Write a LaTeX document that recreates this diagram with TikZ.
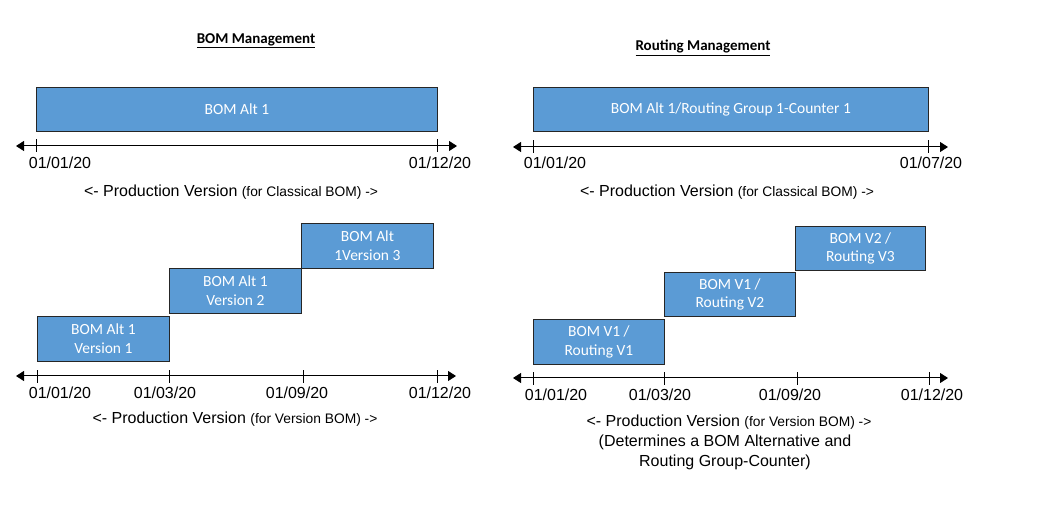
\documentclass[tikz,border=0pt]{standalone}
\usepackage{fontspec}
\setmainfont{Liberation Sans}
\newfontfamily\calib{Carlito}
\usetikzlibrary{arrows.meta}
\definecolor{boxblue}{HTML}{5B9BD5}
\begin{document}
\begin{tikzpicture}[x=1pt,y=-1pt,
  bar/.style={draw=black!85,line width=0.8pt,fill=boxblue,text=white,inner sep=0pt,anchor=north west,align=center,font=\calib\fontsize{15.5}{18.5}\selectfont},
  axis/.style={draw=black,line width=1pt,{Triangle[length=8pt,width=10pt]}-{Triangle[length=8pt,width=10pt]}},
  tick/.style={draw=black,line width=0.8pt},
  datelbl/.style={font=\fontsize{16}{18}\selectfont,inner sep=0pt},
  title/.style={font=\calib\bfseries\fontsize{15}{18}\selectfont,inner sep=0pt},
  pv/.style={font=\fontsize{16}{19.5}\selectfont,inner sep=0pt,align=center}
]
\useasboundingbox (0,0) rectangle (1039,510);
\newcommand{\smallpart}[1]{{\fontsize{13.8}{16}\selectfont #1}}

% ---------- titles
\node[title] (t1) at (256,41) {\underline{BOM Management}};
\node[title] (t2) at (703,48) {\underline{Routing Management}};

% ---------- top left
\node[bar,minimum width=401pt,minimum height=44pt] (a1) at (36,87) {BOM Alt 1};
\coordinate (al) at (16,146);
\coordinate (ar) at (457,146);
\draw[axis] (al) -- (ar);
\coordinate (ta) at (36,146);
\coordinate (tb) at (437,146);
\foreach \c in {ta,tb} \draw[tick] ([yshift=-6pt]\c) -- ([yshift=7pt]\c);
\node[datelbl] (da) at (60,163) {01/01/20};
\node[datelbl] (db) at (440,163) {01/12/20};
\node[pv] (pva) at (231,192) {<- Production Version \smallpart{(for Classical BOM) ->}};

% ---------- top right
\node[bar,minimum width=395pt,minimum height=44pt] (r1) at (533,87) {BOM Alt 1/Routing Group 1-Counter 1};
\coordinate (rl) at (513,147);
\coordinate (rr) at (948,147);
\draw[axis] (rl) -- (rr);
\coordinate (tc) at (533,147);
\coordinate (td) at (928,147);
\foreach \c in {tc,td} \draw[tick] ([yshift=-6pt]\c) -- ([yshift=7pt]\c);
\node[datelbl] (dc) at (555,163) {01/01/20};
\node[datelbl] (dd) at (931,163) {01/07/20};
\node[pv] (pvb) at (727,192) {<- Production Version \smallpart{(for Classical BOM) ->}};

% ---------- bottom left
\node[bar,minimum width=132pt,minimum height=45pt] (v1) at (37,316) {BOM Alt 1\\Version 1};
\node[bar,minimum width=132pt,minimum height=45pt] (v2) at (169,268) {BOM Alt 1\\Version 2};
\node[bar,minimum width=132pt,minimum height=45pt] (v3) at (301,223) {BOM Alt\\1Version 3};
\coordinate (bl) at (16,376);
\coordinate (br) at (456,376);
\draw[axis] (bl) -- (br);
\coordinate (te) at (37,376);
\coordinate (tf) at (169,376);
\coordinate (tg) at (303,376);
\coordinate (th) at (437,376);
\foreach \c in {te,tf,tg,th} \draw[tick] ([yshift=-7pt]\c) -- ([yshift=6pt]\c);
\node[datelbl] (de) at (60,393) {01/01/20};
\node[datelbl] (df) at (165,393) {01/03/20};
\node[datelbl] (dg) at (297,393) {01/09/20};
\node[datelbl] (dh) at (440,393) {01/12/20};
\node[pv] (pvc) at (235,419) {<- Production Version \smallpart{(for Version BOM) ->}};

% ---------- bottom right
\node[bar,minimum width=131pt,minimum height=45pt] (w1) at (533,319) {BOM V1 /\\Routing V1};
\node[bar,minimum width=131pt,minimum height=44pt] (w2) at (664,272) {BOM V1 /\\Routing V2};
\node[bar,minimum width=130pt,minimum height=44pt] (w3) at (795,226) {BOM V2 /\\Routing V3};
\coordinate (cl) at (513,378);
\coordinate (cr) at (948,378);
\draw[axis] (cl) -- (cr);
\coordinate (ti) at (533,378);
\coordinate (tj) at (664,378);
\coordinate (tk) at (797,378);
\coordinate (tl) at (929,378);
\foreach \c in {ti,tj,tk,tl} \draw[tick] ([yshift=-7pt]\c) -- ([yshift=6pt]\c);
\node[datelbl] (di) at (556,395) {01/01/20};
\node[datelbl] (dj) at (660,395) {01/03/20};
\node[datelbl] (dk) at (790,395) {01/09/20};
\node[datelbl] (dl) at (932,395) {01/12/20};
\node[pv] (pvd) at (729,422) {<- Production Version \smallpart{(for Version BOM) ->}};
\node[pv] (det) at (725,452.5) {(Determines a BOM Alternative and\\Routing Group-Counter)};
\end{tikzpicture}
\end{document}
